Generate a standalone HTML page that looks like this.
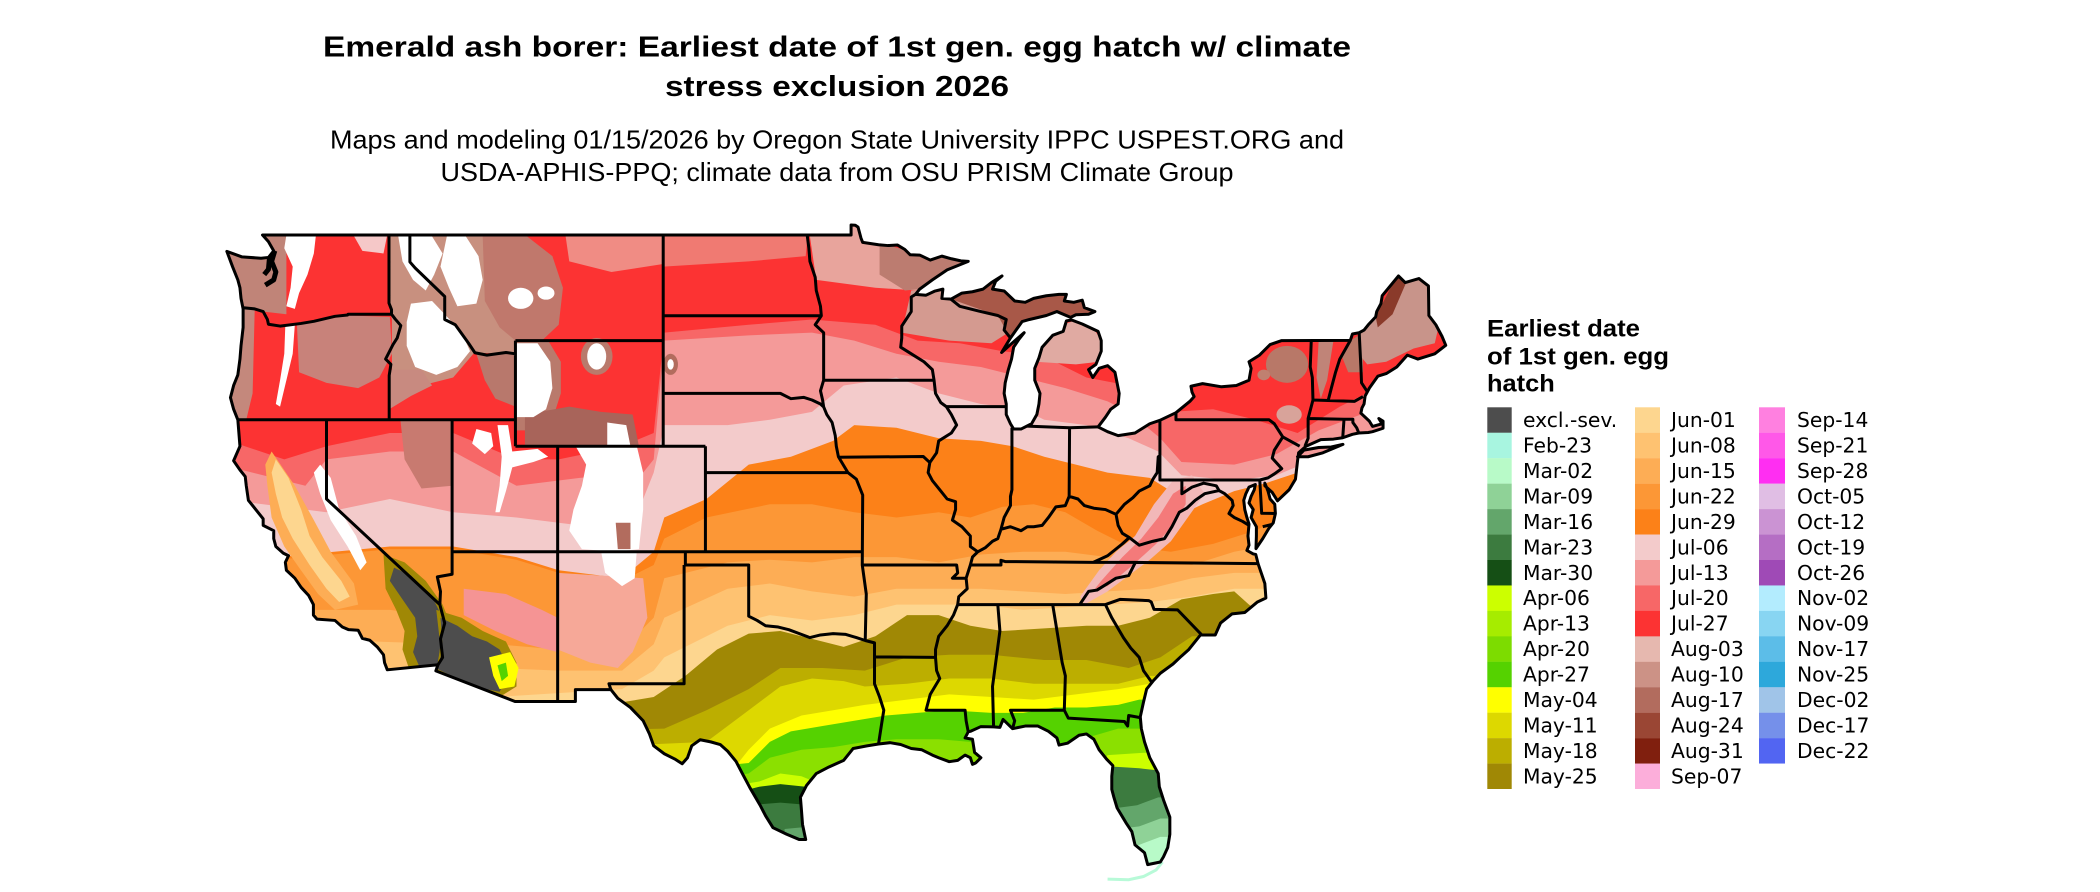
<!DOCTYPE html>
<html><head><meta charset="utf-8"><style>html,body{margin:0;padding:0;background:#fff}svg{display:block}</style></head>
<body>
<svg width="2100" height="892" xmlns="http://www.w3.org/2000/svg">
<rect width="2100" height="892" fill="#fff"/>
<g font-family="'Liberation Sans', Arial, sans-serif" fill="#000" text-anchor="middle">
<text x="837" y="56.7" font-weight="bold" font-size="29" textLength="1028" lengthAdjust="spacingAndGlyphs">Emerald ash borer: Earliest date of 1st gen. egg hatch w/ climate</text>
<text x="837" y="96" font-weight="bold" font-size="29" textLength="344" lengthAdjust="spacingAndGlyphs">stress exclusion 2026</text>
<text x="837" y="148.3" font-size="25.6" textLength="1014" lengthAdjust="spacingAndGlyphs">Maps and modeling 01/15/2026 by Oregon State University IPPC USPEST.ORG and</text>
<text x="837" y="181" font-size="25.6" textLength="793" lengthAdjust="spacingAndGlyphs">USDA-APHIS-PPQ; climate data from OSU PRISM Climate Group</text>
</g>

<g transform="matrix(21.11 0 0 -26.4 2859.7 1528.6)">
<defs>
<clipPath id="us"><path d="M-124.72,48.38 L-124.0,48.17 -123.1,48.12 -122.75,48.15 -122.5,48.4 -122.75,48.75 -123.03,49.0 -95.15,49.0 -95.15,49.38 -94.95,49.37 -94.82,49.3 -94.68,48.88 -94.6,48.72 -93.85,48.63 -93.4,48.6 -92.95,48.62 -92.6,48.45 -92.35,48.25 -91.9,48.24 -91.4,48.05 -90.85,48.2 -90.4,48.1 -89.95,48.02 -89.6,48.0 -90.6,47.68 -91.3,47.3 -91.9,46.95 -92.1,46.75 -91.6,46.72 -91.2,46.87 -90.8,46.95 -90.85,46.6 -90.42,46.57 -89.9,46.8 -89.4,46.85 -88.9,46.95 -88.5,47.2 -88.0,47.45 -88.3,47.25 -88.45,46.95 -87.9,46.88 -87.4,46.5 -86.9,46.45 -86.5,46.6 -85.9,46.7 -85.3,46.75 -84.95,46.75 -85.05,46.5 -84.6,46.45 -84.2,46.53 -84.1,46.25 -83.6,46.1 -83.9,46.0 -84.5,45.98 -84.75,45.88 -85.4,46.1 -85.9,45.95 -86.7,45.8 -87.05,45.72 -87.6,45.1 -88.02,44.55 -87.6,44.85 -86.95,45.3 -87.2,45.05 -87.45,44.75 -87.55,44.3 -87.7,43.9 -87.85,43.4 -87.9,43.0 -87.8,42.6 -87.8,42.2 -87.6,41.85 -87.45,41.65 -87.1,41.65 -86.6,41.85 -86.35,42.2 -86.25,42.6 -86.2,43.0 -86.45,43.5 -86.45,43.95 -86.25,44.35 -86.1,44.75 -85.6,45.2 -85.1,45.35 -84.95,45.75 -84.7,45.78 -84.2,45.63 -83.45,45.35 -83.3,45.0 -83.3,44.6 -83.55,44.1 -83.9,43.9 -83.7,43.6 -83.4,43.95 -83.0,44.05 -82.65,43.8 -82.45,43.0 -82.5,42.6 -82.85,42.4 -83.1,42.1 -83.45,41.73 -83.0,41.55 -82.5,41.4 -81.7,41.5 -81.0,41.85 -80.52,41.98 -79.76,42.27 -79.1,42.7 -78.9,42.88 -79.0,43.05 -79.05,43.27 -78.5,43.37 -77.6,43.25 -76.9,43.3 -76.3,43.5 -76.2,43.95 -76.3,44.2 -75.8,44.45 -75.3,44.85 -74.75,45.0 -71.5,45.01 -71.4,45.25 -71.08,45.3 -70.85,45.4 -70.65,45.6 -70.3,45.9 -70.25,46.1 -70.05,46.4 -69.99,46.7 -69.22,47.45 -68.9,47.2 -68.25,47.35 -67.8,47.07 -67.78,45.95 -67.45,45.6 -67.15,45.15 -66.98,44.82 -67.5,44.5 -68.3,44.3 -68.8,44.45 -69.3,44.0 -69.8,43.75 -70.2,43.65 -70.6,43.2 -70.8,42.9 -70.85,42.6 -70.95,42.45 -71.0,42.25 -70.6,41.95 -70.45,41.75 -70.0,41.85 -70.15,42.05 -69.95,41.95 -69.95,41.68 -70.45,41.55 -70.65,41.52 -71.1,41.5 -71.4,41.45 -71.86,41.32 -72.3,41.27 -72.9,41.25 -73.6,41.0 -73.95,40.75 -74.0,40.45 -74.05,40.1 -74.1,39.75 -74.4,39.35 -74.95,38.93 -75.2,39.25 -75.55,39.5 -75.55,39.6 -75.4,39.3 -75.3,39.0 -75.08,38.8 -75.05,38.45 -75.15,38.1 -75.35,37.9 -75.65,37.5 -75.97,37.12 -75.95,37.6 -75.95,37.95 -76.2,38.3 -76.1,38.6 -76.3,38.85 -76.2,39.1 -76.05,39.35 -76.0,39.55 -76.3,39.45 -76.45,39.2 -76.55,38.95 -76.5,38.6 -76.4,38.3 -76.3,38.05 -76.35,37.6 -76.3,37.25 -76.4,37.05 -76.1,36.92 -75.98,36.9 -75.87,36.55 -75.55,35.8 -75.5,35.25 -75.9,35.1 -76.5,34.7 -77.1,34.65 -77.65,34.3 -77.9,33.85 -78.6,33.85 -79.15,33.3 -79.5,33.05 -79.9,32.75 -80.5,32.4 -80.85,32.1 -81.15,31.8 -81.3,31.3 -81.45,30.75 -81.4,30.3 -81.25,29.8 -81.0,29.2 -80.6,28.6 -80.55,28.1 -80.35,27.6 -80.05,26.95 -80.05,26.3 -80.15,25.8 -80.35,25.45 -80.5,25.25 -81.1,25.15 -81.25,25.6 -81.7,25.9 -81.85,26.4 -82.1,26.7 -82.25,26.9 -82.55,27.3 -82.7,27.7 -82.8,28.0 -82.8,28.5 -82.75,28.9 -83.05,29.15 -83.4,29.5 -83.65,29.9 -84.0,30.1 -84.35,30.05 -84.9,29.75 -85.3,29.68 -85.4,29.95 -85.8,30.2 -86.3,30.4 -86.9,30.4 -87.5,30.3 -87.95,30.65 -88.1,30.35 -88.4,30.37 -89.0,30.38 -89.5,30.2 -89.6,30.18 -89.75,29.95 -89.4,29.9 -89.3,29.4 -89.0,29.2 -89.25,29.0 -89.4,28.95 -89.5,29.2 -89.75,29.3 -90.1,29.1 -90.5,29.05 -91.0,29.2 -91.3,29.3 -91.8,29.5 -92.3,29.55 -92.8,29.7 -93.3,29.77 -93.85,29.72 -94.4,29.65 -95.05,29.55 -95.5,29.1 -96.2,28.85 -96.8,28.6 -97.26,28.15 -97.55,27.7 -97.5,27.2 -97.45,26.67 -97.3,26.1 -97.6,26.1 -98.2,26.3 -98.85,26.55 -99.2,27.0 -99.46,27.4 -99.94,28.06 -100.3,28.6 -100.6,29.06 -101.0,29.45 -101.35,29.7 -101.8,29.8 -102.3,29.88 -102.7,29.65 -102.9,29.2 -103.15,28.97 -103.5,29.15 -104.0,29.35 -104.5,29.65 -104.7,30.1 -105.0,30.6 -105.6,31.1 -106.2,31.45 -106.53,31.78 -108.21,31.78 -108.21,31.33 -111.07,31.33 -114.82,32.49 -114.72,32.72 -117.12,32.53 -117.25,32.8 -117.3,33.1 -117.6,33.4 -117.95,33.65 -118.3,33.72 -118.5,34.03 -118.95,34.05 -119.25,34.15 -119.6,34.4 -120.45,34.45 -120.62,34.6 -120.62,35.0 -120.85,35.35 -121.2,35.65 -121.5,36.0 -121.9,36.3 -121.95,36.6 -121.8,36.85 -122.05,36.95 -122.4,37.2 -122.5,37.5 -122.5,37.8 -123.0,38.0 -123.0,38.25 -123.7,38.95 -123.8,39.5 -123.85,39.85 -124.1,40.1 -124.4,40.45 -124.1,41.0 -124.15,41.5 -124.2,42.0 -124.4,42.4 -124.55,42.84 -124.4,43.3 -124.2,43.7 -124.1,44.3 -124.05,44.8 -123.95,45.5 -123.95,46.2 -124.05,46.6 -124.1,47.0 -124.2,47.3 -124.45,47.8 Z M-74.0,40.6 L-73.5,40.6 -72.8,40.75 -71.85,41.07 -72.4,40.97 -73.0,40.95 -73.7,40.85 Z"/></clipPath>
</defs>

<g clip-path="url(#us)">
<rect x="-126" y="24" width="61" height="26" fill="#FC3333"/>
<polygon fill="#F76767" points="-125,41.3 -122,40.5 -120,41.0 -117,41.5 -114,41.5 -111,40.5 -109,40.5 -106,41.0 -104.5,41.5 -104,45.3 -100,45.6 -97,45.8 -94,45.6 -92,45.0 -90,44.9 -88,44.6 -86,44.4 -84,43.6 -82,43.3 -80,42.3 -78,42.4 -76,42.0 -74,41.5 -72,42.5 -70,43.3 -66,43.3 -66,24 -125,24"/>
<polygon fill="#F49A99" points="-125,40.3 -121,39.5 -120,40.5 -117,40.8 -114,40.8 -111,39.5 -108,39.8 -105,40.0 -104.5,40.5 -104,45.0 -100,45.2 -97,45.3 -95,45.0 -93,44.5 -91,44.2 -89,44.0 -87,43.6 -85,43.2 -83,42.7 -82,42.3 -80.5,41.3 -79.5,40.4 -77,40.3 -75,40.7 -73,41.6 -71,42.2 -70,42.5 -66,42.5 -66,24 -125,24"/>
<polygon fill="#F3CBCB" points="-125,39.0 -120,38.5 -117,39.0 -114,38.5 -111,38.3 -108,38.0 -105,39.0 -104.5,40.0 -104,41.8 -101,41.8 -99,42.0 -97,42.3 -95.5,43.3 -93,43.6 -91,43.0 -89,42.6 -87,42.4 -86,42.0 -84,41.8 -82,41.3 -80.6,40.8 -79.5,39.9 -77,39.7 -75,39.9 -73.5,40.4 -66,40.4 -66,24 -125,24"/>
<polygon fill="#FC8118" points="-125,36.6 -117,37.2 -114,37.2 -111,36.8 -109,36.3 -106,36.0 -104.5,37.0 -104,38.3 -102,39.0 -100,40.3 -98,40.6 -96,41.2 -95,41.8 -93,41.7 -91,41.3 -89,41.2 -87.5,41.0 -86,40.6 -84.5,40.3 -83,40.0 -81,39.8 -80,39.3 -79.3,38.5 -78.5,38.8 -77,39.3 -75.5,39.6 -74,40.0 -66,40.0 -66,24 -125,24"/>
<polygon fill="#FC9736" points="-125,36.5 -117,37.1 -114,37.1 -111,36.7 -109,36.2 -106,35.9 -104.5,36.5 -104,37.5 -102,38.3 -99,38.8 -97,38.8 -95,38.5 -93,38.3 -91,38.5 -89.5,38.3 -88,38.7 -86.5,38.8 -85,38.5 -83.5,37.8 -82,37.2 -80,37.0 -78,37.3 -76,37.8 -75,38.2 -66,38.2 -66,24 -125,24"/>
<polygon fill="#FDAD55" points="-125,34.8 -117,34.8 -114,34.5 -112,33.5 -109,33.3 -106,33.3 -104.5,34.5 -104,36.0 -101,36.6 -99,36.7 -97,36.6 -95,36.8 -93,36.8 -91,36.6 -89,36.9 -87,37.0 -85,37.0 -83,36.8 -81,36.5 -79,36.5 -77,37.0 -75,37.3 -66,37.3 -66,24 -125,24"/>
<polygon fill="#FEC271" points="-125,33.8 -114,33.5 -112,32.6 -109,32.5 -106,32.5 -104.5,33.5 -104,34.5 -101,35.6 -99,35.8 -97,35.5 -95,35.3 -93,35.6 -91,35.6 -89,35.6 -87,35.5 -85,35.4 -83,35.5 -81,35.6 -79,36.0 -77,36.2 -66,36.2 -66,24 -125,24"/>
<polygon fill="#FDD68F" points="-125,31.5 -112,31.5 -106,31.8 -104.5,32.5 -104,33.0 -101,34.2 -99,34.6 -97,34.4 -95,34.6 -93,35.0 -91,35.0 -89,35.0 -87,34.8 -85,34.9 -83,35.0 -81,35.1 -79,35.3 -77,35.6 -66,35.6 -66,24 -125,24"/>
<polygon fill="#A08805" points="-125,30.5 -110,30.5 -106,31.3 -104.5,31.5 -103,32.3 -101.5,33.3 -100,33.9 -98.5,34.0 -97,33.7 -95.5,33.4 -94,33.8 -92.5,34.6 -91,34.6 -89.5,34.2 -88,34.0 -86,34.1 -84,34.2 -82.5,34.2 -81,34.5 -79.5,35.2 -78,35.4 -77,35.5 -76.3,35.0 -75.5,34.5 -66,34.5 -66,24 -125,24"/>
<polygon fill="#BCAE00" points="-125,30 -104,30.3 -102,31.0 -100,31.8 -98.5,32.6 -96.5,32.6 -94.5,32.5 -92.5,33.0 -90.5,33.1 -88.5,33.1 -86,32.9 -84,32.9 -82,32.6 -80.5,33.0 -79,33.8 -66,33.8 -66,24 -125,24"/>
<polygon fill="#DDD800" points="-125,29 -102,29.8 -100,31.0 -98.5,31.9 -97,32.2 -95.5,32.1 -94.5,31.9 -92.5,32.0 -90.5,32.2 -88.5,32.2 -86.5,32.0 -84.5,32.0 -82.5,32.0 -81,32.3 -66,32.3 -66,24 -125,24"/>
<polygon fill="#FFFF00" points="-125,28 -101,28.5 -100,29.5 -99,30.3 -97.5,30.8 -96,31.0 -94.5,31.2 -92.5,31.4 -90.5,31.6 -88.5,31.5 -86.5,31.4 -84.5,31.6 -82.5,31.8 -81,32.0 -66,32.0 -66,24 -125,24"/>
<polygon fill="#55D200" points="-125,27 -100,29.0 -99,29.8 -98,30.2 -96.5,30.4 -95,30.6 -93.5,30.8 -92,30.9 -90.5,31.0 -88.5,30.9 -87,30.9 -85.5,31.1 -84,31.1 -82.5,31.2 -81.5,31.4 -66,31.4 -66,24 -125,24"/>
<polygon fill="#8BE000" points="-125,26 -100,28.6 -99,29.2 -97.5,29.5 -96,29.6 -94.5,29.8 -93,29.9 -91,29.9 -89.5,29.8 -88,29.5 -85,29.3 -83.8,30.0 -82.5,30.3 -81,30.3 -66,30.3 -66,24 -125,24"/>
<polygon fill="#CCFF00" points="-125,25 -99.5,28.3 -98.5,28.6 -97.5,28.5 -96,28.0 -90,27 -84,28 -83,29.3 -81,29.4 -66,29.4 -66,24 -125,24"/>
<polygon fill="#154F15" points="-100.5,27.9 -99.5,28.1 -98.5,28.2 -97.3,28.1 -96.5,28.1 -96.5,25.5 -100.5,25.5"/>
<polygon fill="#3C7B3F" points="-100,27.4 -98.5,27.5 -97.0,27.4 -97.0,25.5 -100,25.5"/>
<polygon fill="#63A66B" points="-98.3,26.5 -97.0,26.6 -97.0,25.5 -98.3,25.5"/>
<polygon fill="#3C7B3F" points="-83.5,28.9 -81.5,28.8 -80.4,28.7 -79.5,28.7 -79.5,24 -83.5,24"/>
<polygon fill="#63A66B" points="-83.5,27.2 -81.6,27.4 -80.6,27.7 -79.5,27.7 -79.5,24 -83.5,24"/>
<polygon fill="#8FD297" points="-83.5,26.4 -81.5,26.6 -80.5,26.9 -79.5,26.9 -79.5,24 -83.5,24"/>
<polygon fill="#B8FAC8" points="-83.5,25.8 -81.5,25.9 -80.5,26.2 -79.5,26.2 -79.5,24 -83.5,24"/>

<polygon fill="#C08478" points="-124.75,48.4 -123.0,49.0 -121.9,49.0 -121.9,46.0 -124.1,46.2"/>
<polygon fill="#C4887C" points="-124.2,46.2 -123.4,46.2 -123.5,43.0 -123.8,42.0 -124.3,42.0 -124.6,42.8 -124.1,44.5"/>
<polygon fill="#C8827A" points="-121.4,45.6 -119.0,45.95 -117.0,45.9 -116.9,44.5 -117.5,43.6 -118.5,43.2 -120.0,43.4 -121.3,43.8"/>
<polygon fill="#C8907F" points="-117.04,49 -112.0,49 -111.6,48 -111.2,46.5 -111.0,45.0 -111.05,44.5 -113,44.54 -114,43.6 -115.5,43.3 -116.9,43.9 -116.9,45.8 -117.04,46.4"/>
<polygon fill="#C0786C" points="-112.6,48.95 -110.5,48.95 -109.3,48.2 -108.8,47.0 -109.0,45.6 -109.8,45.0 -111.05,45.0 -111.8,45.5 -112.5,46.5"/>
<polygon fill="#F08C84" points="-108.7,49.1 -104.05,49.1 -104.05,47.9 -106.5,47.6 -108.5,48.0"/>
<polygon fill="#C88A80" points="-117.0,43.9 -115.5,43.9 -115.0,43.3 -116.0,42.9 -117.03,42.4"/>
<polygon fill="#B8786C" points="-112.9,44.5 -111.05,44.5 -111.05,42.5 -112.0,42.8 -112.5,43.5"/>
<polygon fill="#B97A6C" points="-111.05,45 -109.5,45 -108.9,44.2 -108.9,43 -109.3,42.0 -110.5,41.6 -111.05,41.6"/>
<polygon fill="#A8645A" points="-110.6,42.2 -108.5,42.5 -107.0,42.3 -105.5,42.2 -105.2,41.0 -110.6,41.0"/>
<ellipse cx="-107.2" cy="44.4" rx="0.75" ry="0.7" fill="#B97A6C"/>
<ellipse cx="-103.7" cy="44.1" rx="0.35" ry="0.4" fill="#B26C5E"/>
<polygon fill="#C87A70" points="-116.5,42 -114.05,42 -114.05,39.5 -115.5,39.4 -116.3,40.5"/>
<polygon fill="#F6A898" points="-109.05,36.2 -105.0,36.0 -104.8,34.5 -105.5,33.2 -106.2,32.6 -107.5,32.8 -109.05,33.3"/>
<polygon fill="#F59494" points="-113.5,35.6 -111.5,35.4 -109.8,34.8 -109.05,34.5 -109.05,33.2 -110.5,33.5 -112.0,34.0 -113.5,34.6"/>
<polygon fill="#FDAD55" points="-122.6,40.8 -121.5,39.5 -120.6,38.2 -119.8,37.0 -118.7,35.8 -118.5,35.0 -119.6,34.8 -120.4,35.4 -121.3,36.4 -122.0,37.2 -122.6,38.3 -122.8,39.5 -122.9,40.3"/>
<polygon fill="#FDD68F" points="-122.4,40.5 -121.8,39.8 -121.2,38.6 -120.8,37.6 -120.2,36.8 -119.3,35.9 -118.9,35.3 -119.4,35.1 -120.0,35.6 -120.8,36.5 -121.6,37.5 -122.1,38.3 -122.4,39.2 -122.6,40.0"/>
<polygon fill="#A08805" points="-117.3,36.9 -116.3,36.6 -115.3,35.9 -114.5,35.0 -114.1,34.2 -114.4,33.2 -114.72,32.6 -116.1,32.6 -116.4,33.3 -116.3,34.0 -116.7,34.8 -117.2,35.6"/>
<polygon fill="#4D4D4D" points="-116.8,36.4 -116.0,36.1 -115.0,35.3 -114.5,34.5 -114.6,33.5 -114.72,32.72 -115.6,32.65 -115.9,33.2 -115.7,33.8 -115.8,34.5 -116.4,35.2 -117.0,35.9"/>
<polygon fill="#A08805" points="-114.8,34.8 -113.6,34.5 -112.6,34.0 -111.5,33.6 -111.0,32.8 -111.0,31.9 -111.8,31.5 -113.0,31.7 -114.82,32.4 -114.6,33.4"/>
<polygon fill="#4D4D4D" points="-114.6,34.5 -113.8,34.2 -113.1,33.8 -112.4,33.6 -111.8,33.3 -111.5,32.8 -111.45,32.2 -111.8,31.7 -112.8,31.85 -113.7,32.15 -114.72,32.55 -114.5,33.4"/>
<polygon fill="#FFFF00" points="-112.3,33.0 -111.3,33.2 -110.9,32.6 -111.1,31.9 -111.8,31.8 -112.1,32.3"/>
<polygon fill="#55D200" points="-111.9,32.7 -111.5,32.8 -111.4,32.3 -111.7,32.1"/>
<g fill="#fff">
<polygon points="-121.9,49.0 -120.5,49.0 -120.6,48.3 -120.9,47.5 -121.3,46.8 -121.5,46.2 -121.9,46.3 -121.7,47.0 -121.6,47.8 -122.0,48.5"/>
<polygon points="-121.95,45.6 -121.5,45.6 -121.6,44.5 -121.9,43.5 -122.2,42.5 -122.4,42.6 -122.2,43.5 -122.0,44.5"/>
<polygon points="-116.6,48.95 -115.0,48.95 -114.5,48.3 -114.9,47.5 -115.3,46.9 -115.9,47.3 -116.4,48.0"/>
<polygon points="-116.0,46.4 -115.0,46.5 -114.4,46.0 -113.6,45.3 -113.2,44.6 -113.8,44.0 -114.8,43.7 -115.8,44.0 -116.2,44.8 -116.2,45.7"/>
<polygon points="-114.3,48.95 -113.4,48.95 -112.8,48.2 -112.6,47.3 -112.9,46.4 -113.8,46.3 -114.2,47.0 -114.6,47.8"/>
<ellipse cx="-110.8" cy="46.6" rx="0.6" ry="0.4"/>
<ellipse cx="-109.6" cy="46.8" rx="0.4" ry="0.25"/>
<polygon points="-111.05,44.9 -110.0,44.9 -109.4,44.2 -109.3,43.2 -109.6,42.4 -110.2,42.1 -111.05,42.1"/>
<ellipse cx="-107.2" cy="44.4" rx="0.45" ry="0.5"/>
<polygon points="-106.7,41.9 -105.8,41.8 -105.6,41.0 -106.7,41.0"/>
<polygon points="-108.2,41.0 -105.3,41.0 -105.0,40.0 -105.0,38.6 -105.2,37.1 -106.3,37.0 -107.9,37.1 -108.5,37.8 -108.3,38.6 -107.9,39.5 -107.7,40.3"/>
<polygon points="-107.0,37.05 -105.3,37.05 -105.4,36.0 -106.0,35.7 -106.8,36.2"/>
<polygon points="-111.9,41.8 -111.4,41.8 -111.2,40.8 -110.0,40.9 -109.5,40.6 -110.2,40.4 -111.2,40.2 -111.5,39.3 -111.8,38.5 -112.0,38.5 -111.8,39.5 -111.7,40.6"/>
<polygon points="-112.9,41.65 -112.2,41.5 -112.1,41.0 -112.5,40.7 -113.1,41.1"/>
<polygon points="-120.3,40.3 -119.8,39.8 -119.4,38.6 -118.6,37.6 -118.1,36.6 -118.4,36.3 -119.0,37.2 -119.8,38.2 -120.3,39.2 -120.6,40.0"/>
<ellipse cx="-103.7" cy="44.1" rx="0.15" ry="0.2"/>
</g>
<polygon fill="#F5C8C8" points="-118.8,49.1 -117.1,49.1 -117.3,48.3 -118.3,48.4"/>
<polygon fill="#B26C5E" points="-106.3,38.1 -105.6,38.1 -105.6,37.1 -106.2,37.1"/>
<polygon fill="#F07A72" points="-104.05,49.1 -97.2,49.1 -97.3,48.2 -100,48.0 -104.05,47.8"/>
<polygon fill="#E8A49C" points="-97.2,49.5 -94.6,49.5 -94.6,48.7 -92.0,48.3 -90.5,47.8 -92.0,46.9 -94.0,47.0 -96.8,47.3"/>
<polygon fill="#BC7C70" points="-93.8,48.7 -92.0,48.3 -89.6,48.0 -90.6,47.68 -91.9,46.95 -92.6,46.9 -93.8,47.5"/>
<polygon fill="#D49A90" points="-92.3,46.9 -90.4,46.9 -88.2,45.95 -87.7,45.3 -88.5,44.9 -90.5,45.0 -92.75,45.3"/>
<polygon fill="#A85848" points="-90.42,46.57 -88.0,47.6 -84.6,46.8 -83.5,46.0 -85.5,45.9 -87.6,45.1 -88.2,45.95"/>
<polygon fill="#E0AAA2" points="-86.3,45.3 -84.0,45.9 -83.3,45.0 -83.4,44.2 -84.5,44.1 -86.4,44.2"/>
<ellipse cx="-74.5" cy="44.1" rx="1.0" ry="0.7" fill="#B87868"/>
<ellipse cx="-75.6" cy="43.7" rx="0.3" ry="0.2" fill="#C08070"/>
<ellipse cx="-74.4" cy="42.2" rx="0.6" ry="0.35" fill="#D8A39A"/>
<polygon fill="#C08478" points="-73.0,45.0 -72.3,45.0 -72.6,43.5 -72.9,42.8 -73.1,43.6"/>
<polygon fill="#B87868" points="-71.5,45.0 -70.9,45.3 -70.9,43.8 -71.6,43.8 -71.9,44.4"/>
<polygon fill="#C8948A" points="-71.08,45.3 -70.3,45.9 -69.22,47.6 -68.25,47.5 -67.6,47.07 -67.6,45.95 -67.3,45.6 -67.5,44.9 -68.5,44.7 -69.8,44.2 -70.7,44.1 -71.0,44.4"/>
<polygon fill="#8A3A2A" points="-70.3,45.9 -69.22,47.6 -68.8,47.3 -69.5,46.0 -70.2,45.5"/>
<polygon fill="#F2B8B8" points="-79.0,39.9 -79.9,39.7 -80.8,38.8 -81.7,37.6 -82.6,37.0 -83.4,36.3 -84.3,35.3 -84.1,35.0 -83.0,35.5 -82.0,36.1 -81.0,36.7 -80.0,37.4 -79.2,38.3 -78.4,39.2"/>
<polygon fill="#F47A7A" points="-79.3,39.5 -79.9,39.2 -80.6,38.3 -81.4,37.5 -82.3,36.8 -83.3,35.9 -83.6,35.6 -83.0,35.7 -81.8,36.5 -80.7,37.3 -79.9,38.0 -79.3,38.8"/>
</g>

<polyline points="-83.0,24.6 -82.0,24.58 -81.3,24.7 -80.7,24.95 -80.4,25.25" fill="none" stroke="#B8FAD8" stroke-width="3" vector-effect="non-scaling-stroke"/>

<path fill="none" stroke="#000" stroke-width="3" stroke-linejoin="round" vector-effect="non-scaling-stroke" d="M-124.72,48.38 L-124.0,48.17 -123.1,48.12 -122.75,48.15 -122.5,48.4 -122.75,48.75 -123.03,49.0 -95.15,49.0 -95.15,49.38 -94.95,49.37 -94.82,49.3 -94.68,48.88 -94.6,48.72 -93.85,48.63 -93.4,48.6 -92.95,48.62 -92.6,48.45 -92.35,48.25 -91.9,48.24 -91.4,48.05 -90.85,48.2 -90.4,48.1 -89.95,48.02 -89.6,48.0 -90.6,47.68 -91.3,47.3 -91.9,46.95 -92.1,46.75 -91.6,46.72 -91.2,46.87 -90.8,46.95 -90.85,46.6 -90.42,46.57 -89.9,46.8 -89.4,46.85 -88.9,46.95 -88.5,47.2 -88.0,47.45 -88.3,47.25 -88.45,46.95 -87.9,46.88 -87.4,46.5 -86.9,46.45 -86.5,46.6 -85.9,46.7 -85.3,46.75 -84.95,46.75 -85.05,46.5 -84.6,46.45 -84.2,46.53 -84.1,46.25 -83.6,46.1 -83.9,46.0 -84.5,45.98 -84.75,45.88 -85.4,46.1 -85.9,45.95 -86.7,45.8 -87.05,45.72 -87.6,45.1 -88.02,44.55 -87.6,44.85 -86.95,45.3 -87.2,45.05 -87.45,44.75 -87.55,44.3 -87.7,43.9 -87.85,43.4 -87.9,43.0 -87.8,42.6 -87.8,42.2 -87.6,41.85 -87.45,41.65 -87.1,41.65 -86.6,41.85 -86.35,42.2 -86.25,42.6 -86.2,43.0 -86.45,43.5 -86.45,43.95 -86.25,44.35 -86.1,44.75 -85.6,45.2 -85.1,45.35 -84.95,45.75 -84.7,45.78 -84.2,45.63 -83.45,45.35 -83.3,45.0 -83.3,44.6 -83.55,44.1 -83.9,43.9 -83.7,43.6 -83.4,43.95 -83.0,44.05 -82.65,43.8 -82.45,43.0 -82.5,42.6 -82.85,42.4 -83.1,42.1 -83.45,41.73 -83.0,41.55 -82.5,41.4 -81.7,41.5 -81.0,41.85 -80.52,41.98 -79.76,42.27 -79.1,42.7 -78.9,42.88 -79.0,43.05 -79.05,43.27 -78.5,43.37 -77.6,43.25 -76.9,43.3 -76.3,43.5 -76.2,43.95 -76.3,44.2 -75.8,44.45 -75.3,44.85 -74.75,45.0 -71.5,45.01 -71.4,45.25 -71.08,45.3 -70.85,45.4 -70.65,45.6 -70.3,45.9 -70.25,46.1 -70.05,46.4 -69.99,46.7 -69.22,47.45 -68.9,47.2 -68.25,47.35 -67.8,47.07 -67.78,45.95 -67.45,45.6 -67.15,45.15 -66.98,44.82 -67.5,44.5 -68.3,44.3 -68.8,44.45 -69.3,44.0 -69.8,43.75 -70.2,43.65 -70.6,43.2 -70.8,42.9 -70.85,42.6 -70.95,42.45 -71.0,42.25 -70.6,41.95 -70.45,41.75 -70.0,41.85 -70.15,42.05 -69.95,41.95 -69.95,41.68 -70.45,41.55 -70.65,41.52 -71.1,41.5 -71.4,41.45 -71.86,41.32 -72.3,41.27 -72.9,41.25 -73.6,41.0 -73.95,40.75 -74.0,40.45 -74.05,40.1 -74.1,39.75 -74.4,39.35 -74.95,38.93 -75.2,39.25 -75.55,39.5 -75.55,39.6 -75.4,39.3 -75.3,39.0 -75.08,38.8 -75.05,38.45 -75.15,38.1 -75.35,37.9 -75.65,37.5 -75.97,37.12 -75.95,37.6 -75.95,37.95 -76.2,38.3 -76.1,38.6 -76.3,38.85 -76.2,39.1 -76.05,39.35 -76.0,39.55 -76.3,39.45 -76.45,39.2 -76.55,38.95 -76.5,38.6 -76.4,38.3 -76.3,38.05 -76.35,37.6 -76.3,37.25 -76.4,37.05 -76.1,36.92 -75.98,36.9 -75.87,36.55 -75.55,35.8 -75.5,35.25 -75.9,35.1 -76.5,34.7 -77.1,34.65 -77.65,34.3 -77.9,33.85 -78.6,33.85 -79.15,33.3 -79.5,33.05 -79.9,32.75 -80.5,32.4 -80.85,32.1 -81.15,31.8 -81.3,31.3 -81.45,30.75 -81.4,30.3 -81.25,29.8 -81.0,29.2 -80.6,28.6 -80.55,28.1 -80.35,27.6 -80.05,26.95 -80.05,26.3 -80.15,25.8 -80.35,25.45 -80.5,25.25 -81.1,25.15 -81.25,25.6 -81.7,25.9 -81.85,26.4 -82.1,26.7 -82.25,26.9 -82.55,27.3 -82.7,27.7 -82.8,28.0 -82.8,28.5 -82.75,28.9 -83.05,29.15 -83.4,29.5 -83.65,29.9 -84.0,30.1 -84.35,30.05 -84.9,29.75 -85.3,29.68 -85.4,29.95 -85.8,30.2 -86.3,30.4 -86.9,30.4 -87.5,30.3 -87.95,30.65 -88.1,30.35 -88.4,30.37 -89.0,30.38 -89.5,30.2 -89.6,30.18 -89.75,29.95 -89.4,29.9 -89.3,29.4 -89.0,29.2 -89.25,29.0 -89.4,28.95 -89.5,29.2 -89.75,29.3 -90.1,29.1 -90.5,29.05 -91.0,29.2 -91.3,29.3 -91.8,29.5 -92.3,29.55 -92.8,29.7 -93.3,29.77 -93.85,29.72 -94.4,29.65 -95.05,29.55 -95.5,29.1 -96.2,28.85 -96.8,28.6 -97.26,28.15 -97.55,27.7 -97.5,27.2 -97.45,26.67 -97.3,26.1 -97.6,26.1 -98.2,26.3 -98.85,26.55 -99.2,27.0 -99.46,27.4 -99.94,28.06 -100.3,28.6 -100.6,29.06 -101.0,29.45 -101.35,29.7 -101.8,29.8 -102.3,29.88 -102.7,29.65 -102.9,29.2 -103.15,28.97 -103.5,29.15 -104.0,29.35 -104.5,29.65 -104.7,30.1 -105.0,30.6 -105.6,31.1 -106.2,31.45 -106.53,31.78 -108.21,31.78 -108.21,31.33 -111.07,31.33 -114.82,32.49 -114.72,32.72 -117.12,32.53 -117.25,32.8 -117.3,33.1 -117.6,33.4 -117.95,33.65 -118.3,33.72 -118.5,34.03 -118.95,34.05 -119.25,34.15 -119.6,34.4 -120.45,34.45 -120.62,34.6 -120.62,35.0 -120.85,35.35 -121.2,35.65 -121.5,36.0 -121.9,36.3 -121.95,36.6 -121.8,36.85 -122.05,36.95 -122.4,37.2 -122.5,37.5 -122.5,37.8 -123.0,38.0 -123.0,38.25 -123.7,38.95 -123.8,39.5 -123.85,39.85 -124.1,40.1 -124.4,40.45 -124.1,41.0 -124.15,41.5 -124.2,42.0 -124.4,42.4 -124.55,42.84 -124.4,43.3 -124.2,43.7 -124.1,44.3 -124.05,44.8 -123.95,45.5 -123.95,46.2 -124.05,46.6 -124.1,47.0 -124.2,47.3 -124.45,47.8 Z M-74.0,40.6 L-73.5,40.6 -72.8,40.75 -71.85,41.07 -72.4,40.97 -73.0,40.95 -73.7,40.85 Z"/>
<path d="M-122.45,48.4 L-122.6,48.0 -122.4,47.6 -122.5,47.3 -122.9,47.1 M-122.7,48.15 L-122.75,47.7 -122.95,47.5" fill="none" stroke="#000" stroke-width="5" stroke-linejoin="round" vector-effect="non-scaling-stroke"/>

<path fill="none" stroke="#000" stroke-width="3" stroke-linejoin="round" vector-effect="non-scaling-stroke" d="
M-124.0,46.25 L-123.4,46.2 -123.0,46.1 -122.8,45.8 -122.75,45.62 -122.2,45.55 -121.2,45.65 -120.6,45.73 -119.6,45.92 -119.0,45.97 -118.98,46.0 -116.92,46.0
M-117.04,49.0 L-117.04,46.42 -116.92,46.17 -116.92,46.0 -116.75,45.82 -116.48,45.57 -116.65,45.1 -116.85,44.85 -117.2,44.3 -116.95,44.1 -117.03,43.68 -117.03,42.0
M-116.05,49.0 L-116.05,47.98 -115.8,47.75 -114.4,46.67 -114.4,45.8 -113.9,45.6 -113.27,44.9 -112.97,44.54 -112.4,44.45 -111.5,44.55 -111.05,44.5
M-111.05,45.0 L-111.05,41.0
M-111.05,45.0 L-104.05,45.0
M-124.2,42.0 L-111.05,42.0
M-111.05,41.0 L-102.05,41.0
M-109.05,41.0 L-109.05,31.33
M-114.05,42.0 L-114.05,36.15 -114.75,36.05 -114.6,35.5 -114.63,35.0 -114.4,34.3 -114.6,33.7 -114.5,33.0 -114.72,32.72
M-120.0,42.0 L-120.0,39.0 -114.63,35.0
M-114.05,37.0 L-94.62,37.0
M-104.05,49.0 L-104.05,41.0
M-104.05,45.94 L-96.56,45.94
M-104.05,43.0 L-98.5,43.0 -98.0,42.8 -97.4,42.85 -97.0,42.75 -96.6,42.6 -96.45,42.49
M-97.23,49.0 L-97.15,48.5 -97.1,48.0 -96.85,47.4 -96.8,46.9 -96.6,46.3 -96.56,45.94 -96.85,45.6 -96.45,45.3 -96.45,43.5 -96.6,43.1 -96.5,42.75 -96.45,42.49 -96.3,42.2 -96.05,41.9 -95.9,41.4 -95.85,41.0 -95.75,40.6 -95.3,40.0 -94.9,39.75 -94.6,39.15 -94.62,36.5 -94.43,35.4 -94.48,33.64
M-102.05,41.0 L-102.05,37.0
M-102.05,40.0 L-95.3,40.0
M-103.0,37.0 L-103.0,36.5 -100.0,36.5 -100.0,34.56 -99.6,34.4 -99.2,34.2 -98.6,34.15 -98.1,34.05 -97.6,33.9 -97.1,33.75 -96.6,33.85 -96.0,33.9 -95.4,33.87 -94.9,33.75 -94.48,33.64 -94.04,33.55 -94.04,32.0 -93.8,31.5 -93.6,31.0 -93.7,30.5 -93.85,29.72
M-103.06,36.5 L-103.06,32.0 -106.62,32.0 -106.53,31.78
M-94.62,36.5 L-90.15,36.5 -90.1,36.2 -90.35,36.0 -89.7,36.0
M-94.04,33.02 L-91.15,33.0
M-91.22,43.5 L-91.15,43.0 -90.9,42.65 -90.64,42.5 -90.4,42.2 -90.15,41.8 -90.4,41.5 -91.0,41.2 -91.1,40.75 -91.42,40.38 -91.5,40.0 -91.3,39.7 -90.9,39.3 -90.6,39.0 -90.2,38.9 -90.2,38.6 -90.35,38.2 -89.9,37.95 -89.5,37.6 -89.5,37.2 -89.15,37.0 -89.4,36.8 -89.5,36.5 -89.7,36.0 -89.65,35.6 -90.05,35.3 -90.1,35.0 -90.3,34.6 -90.6,34.2 -91.0,33.8 -91.15,33.3 -91.15,33.0 -91.1,32.5 -90.95,32.2 -91.4,31.6 -91.6,31.0 -89.75,31.0 -89.7,30.6 -89.6,30.18
M-95.77,40.58 L-91.73,40.61 -91.42,40.38
M-96.45,43.5 L-91.22,43.5 -91.3,43.9 -91.7,44.2 -92.3,44.5 -92.8,44.75 -92.75,45.1 -92.75,45.55 -92.3,46.1 -92.3,46.65 -92.1,46.75
M-90.64,42.5 L-87.8,42.5
M-90.42,46.57 L-90.0,46.3 -89.1,46.12 -88.2,45.95 -87.8,45.8 -87.9,45.4 -87.6,45.1
M-87.53,41.7 L-87.53,39.35 -87.6,39.1 -87.6,38.75 -87.9,38.3 -88.05,37.85 -88.2,37.5 -88.45,37.4 -88.8,37.15 -89.15,37.0
M-86.82,41.76 L-84.8,41.7 -83.45,41.73
M-84.8,41.7 L-84.82,39.1 -85.0,38.75 -85.45,38.7 -85.8,38.3 -86.1,38.0 -86.5,37.95 -86.8,37.95 -87.1,37.8 -87.6,37.95 -88.05,37.85
M-84.82,39.1 L-84.4,39.0 -84.1,38.75 -83.65,38.65 -83.1,38.6 -82.6,38.42 -82.2,38.8 -81.8,39.05 -81.5,39.3 -81.0,39.5 -80.85,39.75 -80.65,40.0 -80.6,40.6 -80.52,40.64
M-80.52,41.98 L-80.52,39.72 -75.79,39.72
M-79.48,39.72 L-79.48,39.2 -79.0,39.45 -78.45,39.6 -77.85,39.5 -77.72,39.32
M-89.5,36.5 L-88.05,36.5 -88.05,36.68 -87.85,36.63 -83.68,36.6 -83.0,36.85 -82.3,37.3 -81.97,37.54 -82.3,37.7 -82.5,38.0 -82.6,38.42
M-81.97,37.54 L-81.5,37.25 -80.85,37.4 -80.3,37.5 -79.95,37.95 -79.6,38.5 -79.25,38.65 -78.85,38.95 -78.4,39.2 -77.72,39.32 -77.45,39.2 -77.1,38.95 -77.05,38.75 -77.25,38.45 -77.0,38.3 -76.6,38.15 -76.3,38.0
M-79.76,42.27 L-79.76,42.0 -75.35,42.0 -75.1,41.85 -74.7,41.35 -75.1,40.85 -75.2,40.55 -74.75,40.15 -75.1,39.95 -75.4,39.8 -75.79,39.72 -75.7,38.46 -75.05,38.45
M-74.7,41.35 L-73.9,41.0
M-73.65,41.0 L-73.5,41.3 -73.5,42.05 -73.27,42.75 -73.3,43.6 -73.4,44.0 -73.35,45.01
M-73.27,42.75 L-71.3,42.7 -70.9,42.88
M-72.55,42.73 L-72.4,43.2 -72.2,43.8 -72.0,44.3 -71.5,45.01
M-73.5,42.05 L-71.8,42.02 -71.38,42.02 -71.38,41.9 -71.2,41.7 -71.1,41.5
M-71.8,42.02 L-71.86,41.32
M-70.7,43.07 L-70.97,43.4 -71.0,44.0 -71.08,45.3
M-75.65,37.95 L-75.24,38.03
M-83.68,36.6 L-81.68,36.6 -75.87,36.55
M-81.68,36.6 L-82.0,36.1 -82.6,36.0 -83.1,35.75 -83.5,35.55 -83.9,35.5 -84.32,35.0 -90.1,35.0
M-84.32,35.0 L-83.1,35.0 -82.4,35.2 -81.05,35.15 -80.93,35.1 -80.8,34.82 -79.68,34.8 -78.55,33.86
M-83.1,35.0 L-82.8,34.5 -82.25,33.75 -81.9,33.35 -81.5,33.0 -81.3,32.5 -80.9,32.05
M-85.6,35.0 L-85.15,32.8 -85.0,32.3 -85.05,31.0 -84.86,30.7 -82.2,30.57 -82.05,30.4 -82.0,30.8 -81.45,30.72
M-85.05,31.0 L-87.6,31.0 -87.4,30.6 -87.5,30.3
M-88.2,35.0 L-88.1,34.0 -88.45,31.9 -88.4,30.38"/>
</g>

<g font-family="'Liberation Sans', Arial, sans-serif" font-weight="bold" font-size="24.2" fill="#000">
<text x="1487" y="336.7" textLength="153" lengthAdjust="spacingAndGlyphs">Earliest date</text>
<text x="1487" y="364.3" textLength="182" lengthAdjust="spacingAndGlyphs">of 1st gen. egg</text>
<text x="1487" y="391.7" textLength="67.7" lengthAdjust="spacingAndGlyphs">hatch</text>
</g>
<g>
<rect x="1487.3" y="407.3" width="24.4" height="25.6" fill="#4D4D4D"/>
<rect x="1487.3" y="432.75" width="24.4" height="25.6" fill="#A8F5E0"/>
<rect x="1487.3" y="458.2" width="24.4" height="25.6" fill="#B8FAC8"/>
<rect x="1487.3" y="483.65" width="24.4" height="25.6" fill="#8FD297"/>
<rect x="1487.3" y="509.1" width="24.4" height="25.6" fill="#63A66B"/>
<rect x="1487.3" y="534.55" width="24.4" height="25.6" fill="#3C7B3F"/>
<rect x="1487.3" y="560" width="24.4" height="25.6" fill="#154F15"/>
<rect x="1487.3" y="585.45" width="24.4" height="25.6" fill="#CCFF00"/>
<rect x="1487.3" y="610.9" width="24.4" height="25.6" fill="#A6EC00"/>
<rect x="1487.3" y="636.35" width="24.4" height="25.6" fill="#7DDC00"/>
<rect x="1487.3" y="661.8" width="24.4" height="25.6" fill="#55D200"/>
<rect x="1487.3" y="687.25" width="24.4" height="25.6" fill="#FFFF00"/>
<rect x="1487.3" y="712.7" width="24.4" height="25.6" fill="#DDD800"/>
<rect x="1487.3" y="738.15" width="24.4" height="25.6" fill="#BCAE00"/>
<rect x="1487.3" y="763.6" width="24.4" height="25.4" fill="#A08805"/>

<rect x="1635" y="407.3" width="25" height="25.6" fill="#FDD68F"/>
<rect x="1635" y="432.75" width="25" height="25.6" fill="#FEC271"/>
<rect x="1635" y="458.2" width="25" height="25.6" fill="#FDAD55"/>
<rect x="1635" y="483.65" width="25" height="25.6" fill="#FC9736"/>
<rect x="1635" y="509.1" width="25" height="25.6" fill="#FC8118"/>
<rect x="1635" y="534.55" width="25" height="25.6" fill="#F3CBCB"/>
<rect x="1635" y="560" width="25" height="25.6" fill="#F49A99"/>
<rect x="1635" y="585.45" width="25" height="25.6" fill="#F76767"/>
<rect x="1635" y="610.9" width="25" height="25.6" fill="#FC3333"/>
<rect x="1635" y="636.35" width="25" height="25.6" fill="#E6B8AF"/>
<rect x="1635" y="661.8" width="25" height="25.6" fill="#CC9286"/>
<rect x="1635" y="687.25" width="25" height="25.6" fill="#B26C5E"/>
<rect x="1635" y="712.7" width="25" height="25.6" fill="#9A4634"/>
<rect x="1635" y="738.15" width="25" height="25.6" fill="#801F0E"/>
<rect x="1635" y="763.6" width="25" height="25.4" fill="#FCAEDA"/>

<rect x="1759" y="407.3" width="26" height="25.6" fill="#FF80E0"/>
<rect x="1759" y="432.75" width="26" height="25.6" fill="#FF58E8"/>
<rect x="1759" y="458.2" width="26" height="25.6" fill="#FF2EF2"/>
<rect x="1759" y="483.65" width="26" height="25.6" fill="#E0BEE4"/>
<rect x="1759" y="509.1" width="26" height="25.6" fill="#CB93D3"/>
<rect x="1759" y="534.55" width="26" height="25.6" fill="#B56EC4"/>
<rect x="1759" y="560" width="26" height="25.6" fill="#9F4AB6"/>
<rect x="1759" y="585.45" width="26" height="25.6" fill="#B3ECFE"/>
<rect x="1759" y="610.9" width="26" height="25.6" fill="#88D5F2"/>
<rect x="1759" y="636.35" width="26" height="25.6" fill="#5CBDE8"/>
<rect x="1759" y="661.8" width="26" height="25.6" fill="#2DA8DB"/>
<rect x="1759" y="687.25" width="26" height="25.6" fill="#A0C4E8"/>
<rect x="1759" y="712.7" width="26" height="25.6" fill="#7590EA"/>
<rect x="1759" y="738.15" width="26" height="25.4" fill="#5265F2"/>
</g>
<g font-family="'DejaVu Sans', sans-serif" font-size="20.3" fill="#000">
<text x="1523" y="427">excl.-sev.</text>
<text x="1523" y="452.5">Feb-23</text>
<text x="1523" y="478">Mar-02</text>
<text x="1523" y="503.4">Mar-09</text>
<text x="1523" y="528.9">Mar-16</text>
<text x="1523" y="554.3">Mar-23</text>
<text x="1523" y="579.8">Mar-30</text>
<text x="1523" y="605.2">Apr-06</text>
<text x="1523" y="630.7">Apr-13</text>
<text x="1523" y="656.1">Apr-20</text>
<text x="1523" y="681.6">Apr-27</text>
<text x="1523" y="707">May-04</text>
<text x="1523" y="732.5">May-11</text>
<text x="1523" y="757.9">May-18</text>
<text x="1523" y="783.4">May-25</text>

<text x="1671" y="427">Jun-01</text>
<text x="1671" y="452.5">Jun-08</text>
<text x="1671" y="478">Jun-15</text>
<text x="1671" y="503.4">Jun-22</text>
<text x="1671" y="528.9">Jun-29</text>
<text x="1671" y="554.3">Jul-06</text>
<text x="1671" y="579.8">Jul-13</text>
<text x="1671" y="605.2">Jul-20</text>
<text x="1671" y="630.7">Jul-27</text>
<text x="1671" y="656.1">Aug-03</text>
<text x="1671" y="681.6">Aug-10</text>
<text x="1671" y="707">Aug-17</text>
<text x="1671" y="732.5">Aug-24</text>
<text x="1671" y="757.9">Aug-31</text>
<text x="1671" y="783.4">Sep-07</text>

<text x="1797" y="427">Sep-14</text>
<text x="1797" y="452.5">Sep-21</text>
<text x="1797" y="478">Sep-28</text>
<text x="1797" y="503.4">Oct-05</text>
<text x="1797" y="528.9">Oct-12</text>
<text x="1797" y="554.3">Oct-19</text>
<text x="1797" y="579.8">Oct-26</text>
<text x="1797" y="605.2">Nov-02</text>
<text x="1797" y="630.7">Nov-09</text>
<text x="1797" y="656.1">Nov-17</text>
<text x="1797" y="681.6">Nov-25</text>
<text x="1797" y="707">Dec-02</text>
<text x="1797" y="732.5">Dec-17</text>
<text x="1797" y="757.9">Dec-22</text>
</g>
</svg>
</body></html>
